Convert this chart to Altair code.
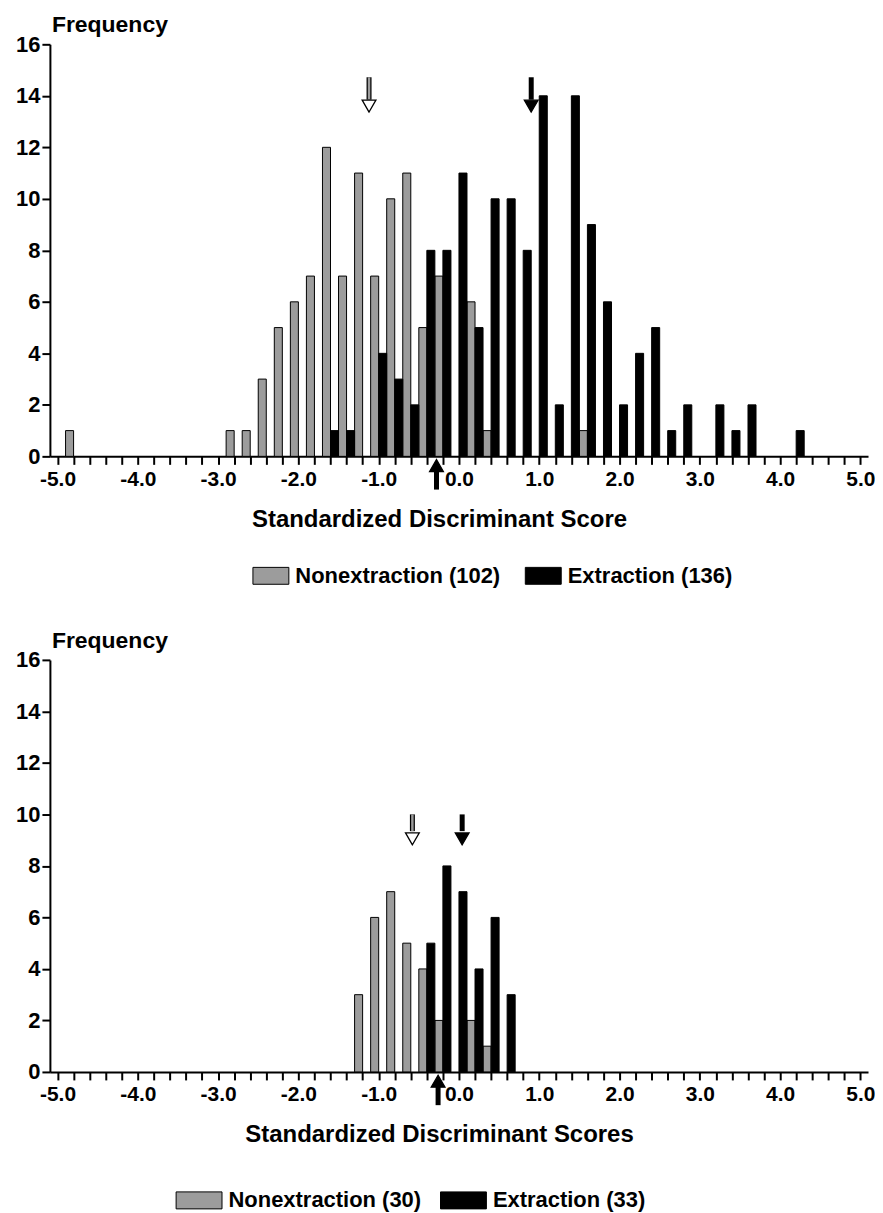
import altair as alt
import pandas as pd

# ---------------- data ----------------
# Each bin is identified by the score c (even tenths); the nonextraction bar
# sits in [c-0.1, c], the extraction bar in [c, c+0.1].
top_bins_nonext = [-4.8, -2.8, -2.6, -2.4, -2.2, -2.0, -1.8, -1.6, -1.4, -1.2,
                   -1.0, -0.8, -0.6, -0.4, -0.2, 0.2, 0.4, 1.6]
top_counts_nonext = [1, 1, 1, 3, 5, 6, 7, 12, 7, 11, 7, 10, 11, 5, 7, 6, 1, 1]
top_bins_ext = [-1.6, -1.4, -1.0, -0.8, -0.6, -0.4, -0.2, 0.0, 0.2, 0.4, 0.6,
                0.8, 1.0, 1.2, 1.4, 1.6, 1.8, 2.0, 2.2, 2.4, 2.6, 2.8, 3.2,
                3.4, 3.6, 4.2]
top_counts_ext = [1, 1, 4, 3, 2, 8, 8, 11, 5, 10, 10, 8, 14, 2, 14, 9, 6, 2,
                  4, 5, 1, 2, 2, 1, 2, 1]
top_means = [-1.12, 0.90]      # nonextraction mean, extraction mean
top_cut = [-0.28]

bot_bins_nonext = [-1.2, -1.0, -0.8, -0.6, -0.4, -0.2, 0.2, 0.4]
bot_counts_nonext = [3, 6, 7, 5, 4, 2, 2, 1]
bot_bins_ext = [-0.4, -0.2, 0.0, 0.2, 0.4, 0.6]
bot_counts_ext = [5, 8, 7, 4, 6, 3]
bot_means = [-0.58, 0.04]
bot_cut = [-0.26]

x_ticks = [round(-5.0 + 0.2 * i, 1) for i in range(51)]
y_ticks = [0, 2, 4, 6, 8, 10, 12, 14, 16]

# ---------------- style ----------------
FONT = "Liberation Sans"
GRAY = "#9c9c9c"
BAR_W = 0.1


def panel(bins_n, counts_n, bins_e, counts_e, means, cut, xtitle,
          head_y, shaft_top, shaft_bot, legend_x, legend_y, col_pad,
          sym_path, sym_size):
    lab_n = f"Nonextraction ({sum(counts_n)})"
    lab_e = f"Extraction ({sum(counts_e)})"
    rows = []
    for c, v in zip(bins_n, counts_n):
        rows.append({"lo": round(c - BAR_W, 2), "hi": c, "n": v, "grp": lab_n})
    for c, v in zip(bins_e, counts_e):
        rows.append({"lo": c, "hi": round(c + BAR_W, 2), "n": v, "grp": lab_e})
    df = pd.DataFrame(rows)
    df["zero"] = 0

    xscale = alt.Scale(domain=[-5.095, 5.095], nice=False, zero=False)
    yscale = alt.Scale(domain=[0, 16], nice=False)

    xaxis = alt.Axis(
        values=x_ticks, tickCount=80,
        labelExpr="abs(datum.value - round(datum.value)) > 0.01 ? '' : "
                  "(datum.value < 0 ? '-' + format(-datum.value, '.1f') : format(datum.value, '.1f'))",
        tickSize=8, tickWidth=2, tickColor="black",
        domainColor="black", domainWidth=2,
        labelFont=FONT, labelFontSize=21, labelFontWeight="bold", labelColor="black",
        labelPadding=4, labelOverlap=False, labelFlush=False,
        titleFont=FONT, titleFontSize=24, titleFontWeight="bold", titleColor="black",
        titlePadding=18, titleX=390, titleAlign="center", grid=False,
    )
    yaxis = alt.Axis(
        values=y_ticks, tickSize=8, tickWidth=2, tickColor="black",
        domainColor="black", domainWidth=2,
        labelFont=FONT, labelFontSize=22, labelFontWeight="bold", labelColor="black",
        labelPadding=2, grid=False, title=None,
    )

    bars = alt.Chart(df).mark_rect(stroke="black", strokeWidth=1).encode(
        x=alt.X("lo:Q", scale=xscale, axis=xaxis, title=xtitle),
        x2="hi:Q",
        y=alt.Y("n:Q", scale=yscale, axis=yaxis),
        y2="zero:Q",
        fill=alt.Fill(
            "grp:N",
            scale=alt.Scale(domain=[lab_n, lab_e], range=[GRAY, "black"]),
            legend=alt.Legend(
                title=None, orient="none", legendX=legend_x, legendY=legend_y,
                direction="horizontal", columnPadding=col_pad,
                symbolType=sym_path, symbolSize=sym_size,
                symbolStrokeColor="black", symbolStrokeWidth=1,
                labelFont=FONT, labelFontSize=22, labelFontWeight="bold",
                labelColor="black", labelOffset=6, labelLimit=0,
            ),
        ),
    )

    def arrow(xv, color, head_fill, up=False):
        d = pd.DataFrame({"lo": [xv]})
        if up:
            hy, s1, s2 = -0.36, -0.52, -1.29
            shape = "triangle-up"
        else:
            hy, s1, s2 = head_y, shaft_top, shaft_bot
            shape = "triangle-down"
        base = alt.Chart(d)
        xenc = alt.X("lo:Q", scale=xscale, title=xtitle)
        layers = [
            base.mark_rule(color="black", strokeWidth=5).encode(
                x=xenc, y=alt.datum(s1), y2=alt.datum(s2)),
        ]
        if color != "black":
            layers.append(base.mark_rule(color=color, strokeWidth=2.5).encode(
                x=xenc, y=alt.datum(s1), y2=alt.datum(s2)))
        layers.append(base.mark_point(shape=shape, size=190, filled=True,
                                      fill=head_fill, stroke="black",
                                      strokeWidth=1.3, opacity=1).encode(
            x=xenc, y=alt.datum(hy)))
        return layers

    arr = []
    arr += arrow(means[0], GRAY, "white")
    arr += arrow(means[1], "black", "black")
    arr += arrow(cut[0], "black", "black", up=True)

    title = alt.TitleParams("Frequency", anchor="start", frame="group",
                            font=FONT, fontSize=23, fontWeight="bold",
                            color="black", offset=-4, dx=2)
    return alt.layer(bars, *arr).properties(width=820, height=413, title=title)


top = panel(top_bins_nonext, top_counts_nonext, top_bins_ext, top_counts_ext,
            top_means, top_cut, "Standardized Discriminant Score",
            13.6, 14.72, 13.85, 203, 514, 22,
            "M-1,-0.47H1V0.47H-1Z", 1296)
bottom = panel(bot_bins_nonext, bot_counts_nonext, bot_bins_ext, bot_counts_ext,
               bot_means, bot_cut, "Standardized Discriminant Scores",
               9.05, 10.0, 9.35, 126, 518, 16,
               "M-1,-0.37H1V0.37H-1Z", 2116)

chart = alt.vconcat(top, bottom, spacing=43).resolve_scale(
    fill="independent").resolve_legend(fill="independent").properties(
    padding={"left": 7, "top": 5, "right": 0, "bottom": 0}
).configure_view(stroke=None)

chart.save("out.html", embed_options={"renderer": "svg", "actions": False})
